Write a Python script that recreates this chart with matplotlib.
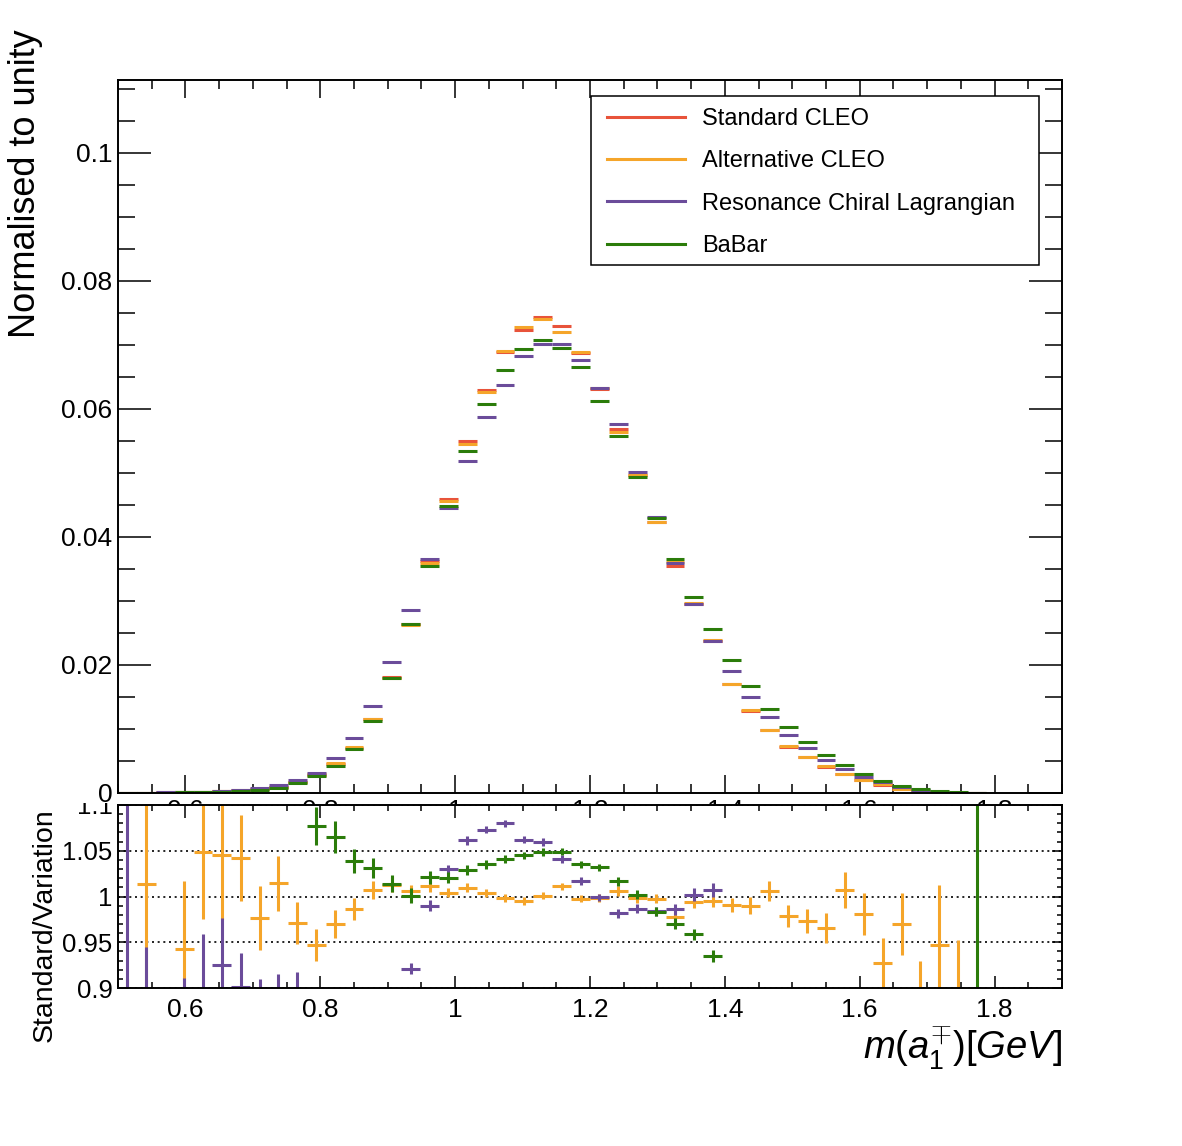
import numpy as np
import matplotlib
matplotlib.use("Agg")
import matplotlib.pyplot as plt
from matplotlib.lines import Line2D
from matplotlib.patches import Rectangle
from matplotlib.ticker import MultipleLocator, FixedLocator, FuncFormatter
from matplotlib.transforms import Bbox, TransformedBbox

plt.rcParams['font.family'] = ['Liberation Sans', 'DejaVu Sans']
plt.rcParams['mathtext.fontset'] = 'custom'
plt.rcParams['mathtext.it'] = 'Liberation Sans:italic'
plt.rcParams['mathtext.rm'] = 'Liberation Sans'
plt.rcParams['mathtext.bf'] = 'Liberation Sans:bold'

# ---------------- data ----------------
x_min, x_max, n_bins = 0.5, 1.9, 50

series_labels = ["Standard CLEO", "Alternative CLEO", "Resonance Chiral Lagrangian", "BaBar"]
series_colors = ["#E8533A", "#F5A52A", "#6B4C9A", "#2B7C0A"]

std_cleo = [0.00003, 0.00005, 0.00008, 0.00012, 0.00018, 0.00026, 0.00040, 0.00062, 0.00095, 0.0017,
            0.0028, 0.0045, 0.0071, 0.0116, 0.0181, 0.0264, 0.0362, 0.0459, 0.0550, 0.0630,
            0.0689, 0.0724, 0.0744, 0.0730, 0.0688, 0.0631, 0.0568, 0.0497, 0.0424, 0.0354,
            0.0295, 0.0238, 0.0170, 0.0128, 0.0099, 0.0072, 0.0056, 0.0041, 0.0030, 0.0020,
            0.0013, 0.0007, 0.00033, 0.00013, 0.00005, 0.00001, 0, 0, 0, 0]
alt_cleo = [0.00003, 0.00005, 0.00007, 0.00012, 0.00017, 0.00025, 0.00038, 0.00063, 0.00094, 0.0017,
            0.00296, 0.00464, 0.0072, 0.0115, 0.0179, 0.0262, 0.0359, 0.0457, 0.0545, 0.0627,
            0.0690, 0.0728, 0.0741, 0.0721, 0.0689, 0.0632, 0.0564, 0.0497, 0.0424, 0.0361,
            0.0297, 0.0239, 0.0171, 0.0129, 0.0098, 0.0074, 0.0057, 0.0042, 0.0030, 0.0020,
            0.0014, 0.0007, 0.00036, 0.00014, 0.00006, 0.000015, 0, 0, 0, 0]
rcl = [0.00004, 0.00007, 0.0001, 0.00016, 0.00022, 0.00036, 0.00052, 0.00085, 0.00125, 0.0021,
       0.0032, 0.0054, 0.0086, 0.0136, 0.0205, 0.0286, 0.0366, 0.0446, 0.0518, 0.0587,
       0.0638, 0.0682, 0.0701, 0.0701, 0.0677, 0.0632, 0.0577, 0.0501, 0.0431, 0.0359,
       0.0295, 0.0237, 0.0191, 0.0150, 0.0119, 0.0090, 0.0070, 0.0052, 0.0037, 0.0025,
       0.0017, 0.0009, 0.00047, 0.0002, 0.00007, 0.00002, 0, 0, 0, 0]
babar = [0.00002, 0.00004, 0.00006, 0.0001, 0.00014, 0.0002, 0.00031, 0.0005, 0.0008, 0.0015,
         0.0026, 0.00423, 0.00683, 0.0112, 0.0179, 0.0264, 0.0355, 0.0449, 0.0534, 0.0608,
         0.0661, 0.0693, 0.0708, 0.0695, 0.0665, 0.0612, 0.0558, 0.0494, 0.0430, 0.0365,
         0.0307, 0.0256, 0.0208, 0.0167, 0.0132, 0.0103, 0.0079, 0.0059, 0.0043, 0.0029,
         0.0019, 0.0011, 0.0006, 0.00025, 0.00009, 0.00002, 0, 0, 0, 0]

# ratio Standard / Variation and its uncertainty (bins 46-49 empty)
ratio_alt = [0.82, 1.014, 1.20, 0.943, 1.049, 1.045, 1.0425, 0.977, 1.0146, 0.971,
             0.947, 0.970, 0.9865, 1.007, 1.013, 1.006, 1.011, 1.004, 1.0095, 1.004,
             0.9985, 0.995, 1.001, 1.011, 0.9975, 0.9985, 1.006, 0.998, 0.9975, 0.978,
             0.9938, 0.995, 0.9908, 0.990, 1.006, 0.979, 0.9736, 0.9656, 1.0073, 0.9806,
             0.9275, 0.9696, 0.87, 0.947, 0.86, 0.70]
ratio_alt_err = [0.09, 0.125, 0.09, 0.074, 0.074, 0.07, 0.047, 0.035, 0.03, 0.023,
                 0.018, 0.015, 0.012, 0.010, 0.008, 0.007, 0.006, 0.005, 0.005, 0.004,
                 0.004, 0.004, 0.004, 0.004, 0.004, 0.004, 0.005, 0.005, 0.005, 0.006,
                 0.006, 0.007, 0.008, 0.009, 0.011, 0.012, 0.013, 0.016, 0.02, 0.023,
                 0.027, 0.034, 0.059, 0.066, 0.092, 0.10]
ratio_rcl = [0.60, 0.80, 0.75, 0.80, 0.85, 0.925, 0.901, 0.80, 0.82, 0.84,
             0.86, 0.85, 0.84, 0.85, 0.88, 0.921, 0.990, 1.0297, 1.0615, 1.073,
             1.080, 1.062, 1.0597, 1.041, 1.017, 0.999, 0.9817, 0.9865, 0.984, 0.986,
             1.002, 1.0073, 0.89, 0.86, 0.83, 0.81, 0.80, 0.79, 0.80, 0.79,
             0.78, 0.77, 0.72, 0.68, 0.65, 0.60]
ratio_rcl_err = [0.60, 0.145, 0.10, 0.111, 0.109, 0.052, 0.037, 0.1095, 0.095, 0.078,
                 0.02, 0.015, 0.012, 0.010, 0.008, 0.006, 0.006, 0.005, 0.005, 0.004,
                 0.004, 0.004, 0.004, 0.004, 0.004, 0.004, 0.005, 0.005, 0.005, 0.006,
                 0.007, 0.008, 0.008, 0.009, 0.01, 0.012, 0.013, 0.016, 0.02, 0.023,
                 0.03, 0.04, 0.06, 0.08, 0.10, 0.15]
ratio_babar = [1.45, 1.35, 1.40, 1.35, 1.30, 1.30, 1.28, 1.25, 1.20, 1.16,
               1.077, 1.065, 1.039, 1.031, 1.014, 1.001, 1.021, 1.0205, 1.029, 1.035,
               1.041, 1.045, 1.0487, 1.049, 1.035, 1.032, 1.0165, 1.002, 0.9835, 0.970,
               0.959, 0.935, 0.82, 0.77, 0.75, 0.70, 0.71, 0.70, 0.70, 0.69,
               0.68, 0.64, 0.55, 0.52, 0.55, 0.70]
ratio_babar_err = [0.3, 0.2, 0.2, 0.15, 0.12, 0.1, 0.08, 0.06, 0.05, 0.04,
                   0.021, 0.017, 0.013, 0.011, 0.009, 0.008, 0.007, 0.006, 0.005, 0.005,
                   0.004, 0.004, 0.004, 0.004, 0.004, 0.004, 0.005, 0.005, 0.005, 0.006,
                   0.006, 0.007, 0.008, 0.009, 0.01, 0.012, 0.013, 0.016, 0.02, 0.023,
                   0.03, 0.04, 0.06, 0.08, 0.15, 0.60]

x_tick_values = [0.6, 0.8, 1.0, 1.2, 1.4, 1.6, 1.8]
y_tick_values = [0, 0.02, 0.04, 0.06, 0.08, 0.1]
r_tick_values = [0.9, 0.95, 1.0, 1.05, 1.1]

# ---------------- layout ----------------
W, H = 1182, 1146
fig = plt.figure(figsize=(W / 100, H / 100), dpi=100)
fig.patch.set_facecolor('white')

def fx(px):
    return px / W

def fy(py):
    return 1 - py / H

ax = fig.add_axes([fx(118), fy(793), fx(1062) - fx(118), fy(80) - fy(793)])
ax2 = fig.add_axes([fx(118), fy(988), fx(1062) - fx(118), fy(805) - fy(988)])
ax2.set_facecolor('white')

edges = np.linspace(x_min, x_max, n_bins + 1)
centers = 0.5 * (edges[:-1] + edges[1:])
hw = 0.5 * np.diff(edges)

LW = 2.2
for vals, col in zip([std_cleo, alt_cleo, rcl, babar], series_colors):
    v = np.asarray(vals, float)
    m = v > 0
    ax.errorbar(centers[m], v[m], xerr=hw[m], fmt='none', ecolor=col,
                elinewidth=LW, capsize=0)

ax.set_xlim(x_min, x_max)
ax.set_ylim(0, 0.1114)

fmt = FuncFormatter(lambda v, p: '0' if abs(v) < 1e-12 else ('%g' % round(v, 4)))
ax.xaxis.set_major_locator(FixedLocator(x_tick_values))
ax.xaxis.set_minor_locator(MultipleLocator(0.05))
ax.yaxis.set_major_locator(FixedLocator(y_tick_values))
ax.yaxis.set_minor_locator(MultipleLocator(0.005))
ax.xaxis.set_major_formatter(fmt)
ax.yaxis.set_major_formatter(fmt)
ax.tick_params(axis='both', which='both', direction='in', top=True, right=True, width=1.1, color='k')
ax.tick_params(axis='y', which='major', length=23.5, labelsize=19, pad=4)
ax.tick_params(axis='y', which='minor', length=12)
ax.tick_params(axis='x', which='major', length=13, labelsize=19, pad=4.3)
ax.tick_params(axis='x', which='minor', length=6.5)
for s in ax.spines.values():
    s.set_linewidth(1.4)

# legend frame + entries
frame = Rectangle((fx(591), fy(265)), fx(1039) - fx(591), fy(96) - fy(265),
                  transform=fig.transFigure, facecolor='white', edgecolor='black',
                  linewidth=1.1, zorder=4)
ax.add_patch(frame)
handles = [Line2D([], [], color=c, lw=LW) for c in series_colors]
leg = ax.legend(handles, series_labels, loc='upper left',
                bbox_to_anchor=(fx(607), fy(108)), bbox_transform=fig.transFigure,
                frameon=False, fontsize=17, borderpad=0, borderaxespad=0,
                handlelength=3.3, handletextpad=0.72, labelspacing=0.86)
leg.set_zorder(5)

# ---------------- ratio panel ----------------
for vals, errs, col in zip([ratio_alt, ratio_rcl, ratio_babar],
                           [ratio_alt_err, ratio_rcl_err, ratio_babar_err],
                           series_colors[1:]):
    v = np.asarray(vals, float)
    e = np.asarray(errs, float)
    n = len(v)
    ax2.errorbar(centers[:n], v, xerr=hw[:n], yerr=e, fmt='none', ecolor=col,
                 elinewidth=LW, capsize=0)

ax2.set_xlim(x_min, x_max)
ax2.set_ylim(0.9, 1.1)
ax2.xaxis.set_major_locator(FixedLocator(x_tick_values))
ax2.xaxis.set_minor_locator(MultipleLocator(0.05))
ax2.yaxis.set_major_locator(FixedLocator(r_tick_values))
ax2.yaxis.set_minor_locator(MultipleLocator(0.01))
ax2.xaxis.set_major_formatter(fmt)
ax2.yaxis.set_major_formatter(fmt)
ax2.tick_params(axis='both', which='both', direction='in', top=True, right=True, width=1.1, color='k')
ax2.tick_params(axis='x', which='major', length=9, labelsize=19, pad=7)
ax2.tick_params(axis='x', which='minor', length=4.5)
ax2.tick_params(axis='y', which='major', length=7, labelsize=18.5, pad=4)
ax2.tick_params(axis='y', which='minor', length=3.5)
ax2.set_axisbelow(True)
ax2.yaxis.grid(True, which='major', linestyle=(0, (1.2, 2.2)), color='black', linewidth=1.2)
for s in ax2.spines.values():
    s.set_linewidth(1.4)

# clip tick labels of the ratio panel at the panel top like the reference
clipbox = TransformedBbox(Bbox([[0, 0], [1, fy(803)]]), fig.transFigure)
for lab in ax2.get_yticklabels():
    lab.set_clip_box(clipbox)
    lab.set_clip_on(True)

# ---------------- axis titles ----------------
fig.text(fx(26), fy(184), "Normalised to unity", rotation=90, ha='center', va='center',
         fontsize=26)
fig.text(fx(45), fy(925), "Standard/Variation", rotation=90, ha='center', va='center',
         fontsize=20.5)
fig.text(fx(1062), fy(1060), r"$m(a_{1}^{\mp})[GeV]$", ha='right', va='baseline',
         fontsize=27.5)

fig.savefig("out.png", dpi=100, facecolor='white')
